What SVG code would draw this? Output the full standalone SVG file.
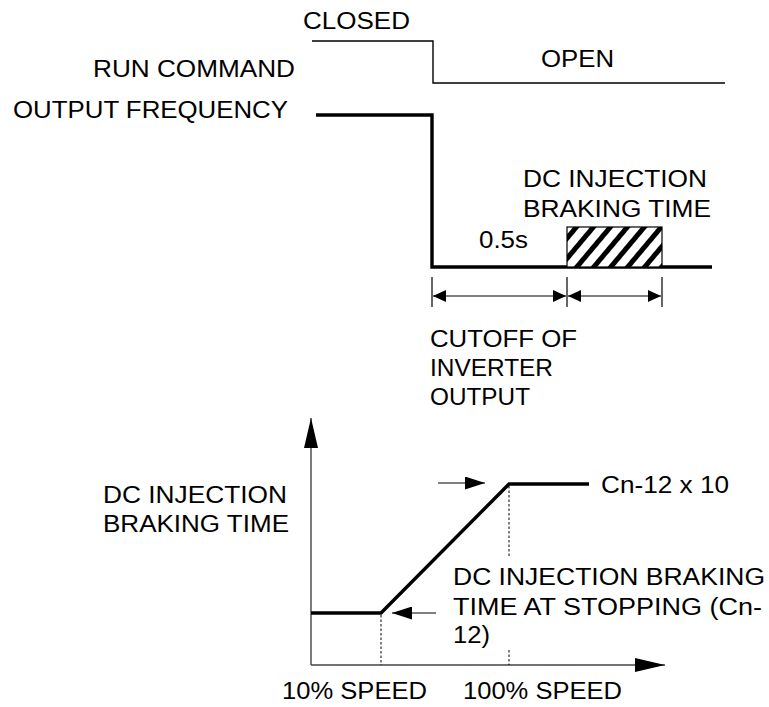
<svg xmlns="http://www.w3.org/2000/svg" width="769" height="707" viewBox="0 0 769 707">
<style>
text{font-family:"Liberation Sans",Arial,sans-serif;font-size:23px;fill:#000}
.thin{fill:none;stroke:#000;stroke-width:1.4}
.thick{fill:none;stroke:#000;stroke-width:3.4}
.axis{fill:none;stroke:#444;stroke-width:1.4}
.dash{fill:none;stroke:#000;stroke-width:1;stroke-dasharray:2.5,2}
.tick{fill:none;stroke:#000;stroke-width:1.2}
</style>
<defs>
<pattern id="hatch" patternUnits="userSpaceOnUse" width="13" height="13" patternTransform="rotate(40)">
<rect width="13" height="13" fill="#fff"/>
<rect x="0" y="0" width="5" height="13" fill="#000"/>
</pattern>
<marker id="dimA" markerUnits="userSpaceOnUse" markerWidth="14" markerHeight="12" refX="13" refY="6" orient="auto-start-reverse" viewBox="0 0 14 12">
<path d="M0,0 L13,6 L0,12 Z" fill="#000"/>
</marker>
<marker id="ptr" markerUnits="userSpaceOnUse" markerWidth="21" markerHeight="13" refX="20" refY="6.5" orient="auto" viewBox="0 0 21 13">
<path d="M0,0 L20,6.5 L0,13 Z" fill="#000"/>
</marker>
<marker id="axA" markerUnits="userSpaceOnUse" markerWidth="31" markerHeight="14" refX="30" refY="7" orient="auto" viewBox="0 0 31 14">
<path d="M0,0 L30,7 L0,14 Z" fill="#000"/>
</marker>
</defs>

<g id="labels">
<text x="303" y="29" textLength="107" lengthAdjust="spacingAndGlyphs">CLOSED</text>
<text x="93" y="77" textLength="202" lengthAdjust="spacingAndGlyphs">RUN COMMAND</text>
<text x="13" y="118" textLength="275" lengthAdjust="spacingAndGlyphs">OUTPUT FREQUENCY</text>
<text x="541" y="67" textLength="73" lengthAdjust="spacingAndGlyphs">OPEN</text>
</g>

<g id="run-command">
<polyline class="thin" points="312,41 433,41 433,83 725,83"/>
</g>

<g id="output-frequency">
<polyline class="thick" points="316,115 432,115 432,267 712,267"/>
</g>

<g id="braking-block">
<rect x="567" y="227" width="95" height="40" fill="url(#hatch)" stroke="#000" stroke-width="1.2"/>
<text x="523" y="187" textLength="184" lengthAdjust="spacingAndGlyphs">DC INJECTION</text>
<text x="523" y="217" textLength="188" lengthAdjust="spacingAndGlyphs">BRAKING TIME</text>
<text x="479" y="248" textLength="49" lengthAdjust="spacingAndGlyphs">0.5s</text>
</g>

<g id="dimensions">
<line class="tick" x1="432" y1="277" x2="432" y2="307"/>
<line class="tick" x1="567" y1="277" x2="567" y2="307"/>
<line class="tick" x1="662" y1="277" x2="662" y2="307"/>
<line class="tick" x1="433" y1="296" x2="566" y2="296" marker-start="url(#dimA)" marker-end="url(#dimA)"/>
<line class="tick" x1="568" y1="296" x2="661" y2="296" marker-start="url(#dimA)" marker-end="url(#dimA)"/>
</g>

<g id="cutoff-label">
<text x="430" y="347" textLength="147" lengthAdjust="spacingAndGlyphs">CUTOFF OF</text>
<text x="430" y="376" textLength="123" lengthAdjust="spacingAndGlyphs">INVERTER</text>
<text x="430" y="405" textLength="100" lengthAdjust="spacingAndGlyphs">OUTPUT</text>
</g>

<g id="graph-axes">
<line class="axis" x1="311" y1="665" x2="311" y2="418" marker-end="url(#axA)"/>
<line class="axis" x1="311" y1="665" x2="665" y2="665" marker-end="url(#axA)"/>
</g>

<g id="graph-curve">
<polyline class="thick" points="311,613 381,613 509,484 589,484"/>
<line class="dash" x1="381" y1="615" x2="381" y2="665"/>
<line class="dash" x1="509" y1="486" x2="509" y2="558"/>
<line class="dash" x1="509" y1="650" x2="509" y2="665"/>
</g>

<g id="connectors">
<line class="tick" x1="438" y1="483" x2="485" y2="483" marker-end="url(#ptr)"/>
<line class="tick" x1="436" y1="613" x2="392" y2="613" marker-end="url(#ptr)"/>
</g>

<g id="graph-labels">
<text x="103" y="503" textLength="184" lengthAdjust="spacingAndGlyphs">DC INJECTION</text>
<text x="103" y="532" textLength="186" lengthAdjust="spacingAndGlyphs">BRAKING TIME</text>
<text x="601" y="493" textLength="128" lengthAdjust="spacingAndGlyphs">Cn-12 x 10</text>
<text x="453" y="585" textLength="312" lengthAdjust="spacingAndGlyphs">DC INJECTION BRAKING</text>
<text x="453" y="615" textLength="309" lengthAdjust="spacingAndGlyphs">TIME AT STOPPING (Cn-</text>
<text x="453" y="643" textLength="37" lengthAdjust="spacingAndGlyphs">12)</text>
<text x="282" y="699" textLength="145" lengthAdjust="spacingAndGlyphs">10% SPEED</text>
<text x="463" y="699" textLength="159" lengthAdjust="spacingAndGlyphs">100% SPEED</text>
</g>
</svg>
